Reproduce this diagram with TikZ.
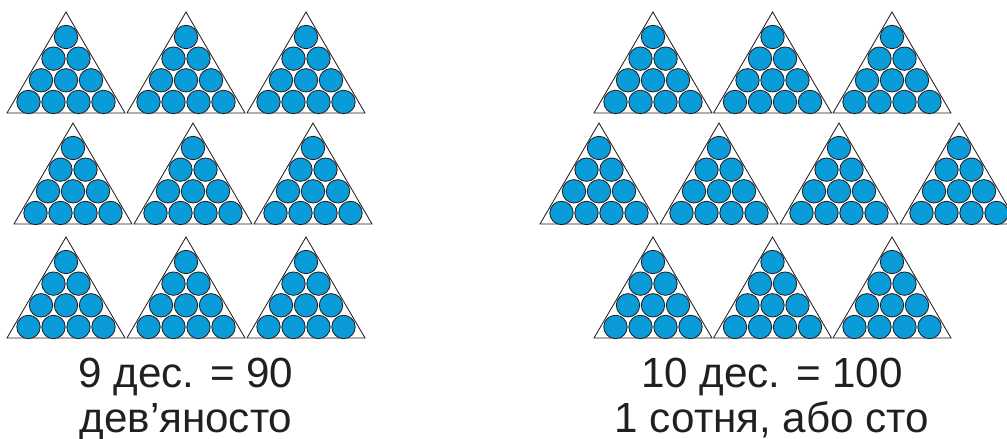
\documentclass[tikz,border=0pt]{standalone}
\usepackage{fontspec}
\setmainfont{Liberation Sans}
\usepackage{tikz}
\usetikzlibrary{positioning}
\definecolor{BallBlue}{HTML}{0A9BD9}
\definecolor{BallInk}{HTML}{231F20}

% one ten: a triangle with 10 balls, apex at (#1,#2)
\newcommand{\tenballs}[2]{%
  \draw[tri] (#1,#2) -- ++(-59,101) -- ++(118,0) -- cycle;
  \foreach \row in {0,...,3}{
    \foreach \k in {0,...,\row}{
      \draw[ball] ({#1+(\k-\row/2)*25},{#2+25+\row*21.65}) circle[radius=11.7];
    }
  }%
}

\begin{document}
\begin{tikzpicture}[
    x=0.025cm, y=-0.025cm,
    tri/.style={
      draw=BallInk,
      line width=0.6pt,
      line join=miter
    },
    ball/.style={
      draw=BallInk,
      fill=BallBlue,
      line width=0.6pt
    },
    caption/.style={
      font=\fontsize{30}{36}\selectfont,
      color=BallInk,
      anchor=base,
      inner sep=0pt
    }
  ]
  \useasboundingbox (0,0) rectangle (1007,439);
  \clip (0,0) rectangle (1007,439);

  % nine tens
  \foreach \ax in {66,186,306}{
    \tenballs{\ax}{12}
    \tenballs{\ax}{237}
  }
  \foreach \ax in {73,193,313}{
    \tenballs{\ax}{123}
  }

  % ten tens
  \foreach \ax in {653,772.5,892}{
    \tenballs{\ax}{12}
    \tenballs{\ax}{237}
  }
  \foreach \ax in {599,719,839,959}{
    \tenballs{\ax}{123}
  }

  % captions
  \node[caption] (nine) at (186,387) {9 дес. = 90};
  \node[caption] (ninety) at (186,432) {дев’яносто};
  \node[caption] (ten) at (772,387) {10 дес. = 100};
  \node[caption] (hundred) at (772,432) {1 сотня, або сто};

\end{tikzpicture}
\end{document}
